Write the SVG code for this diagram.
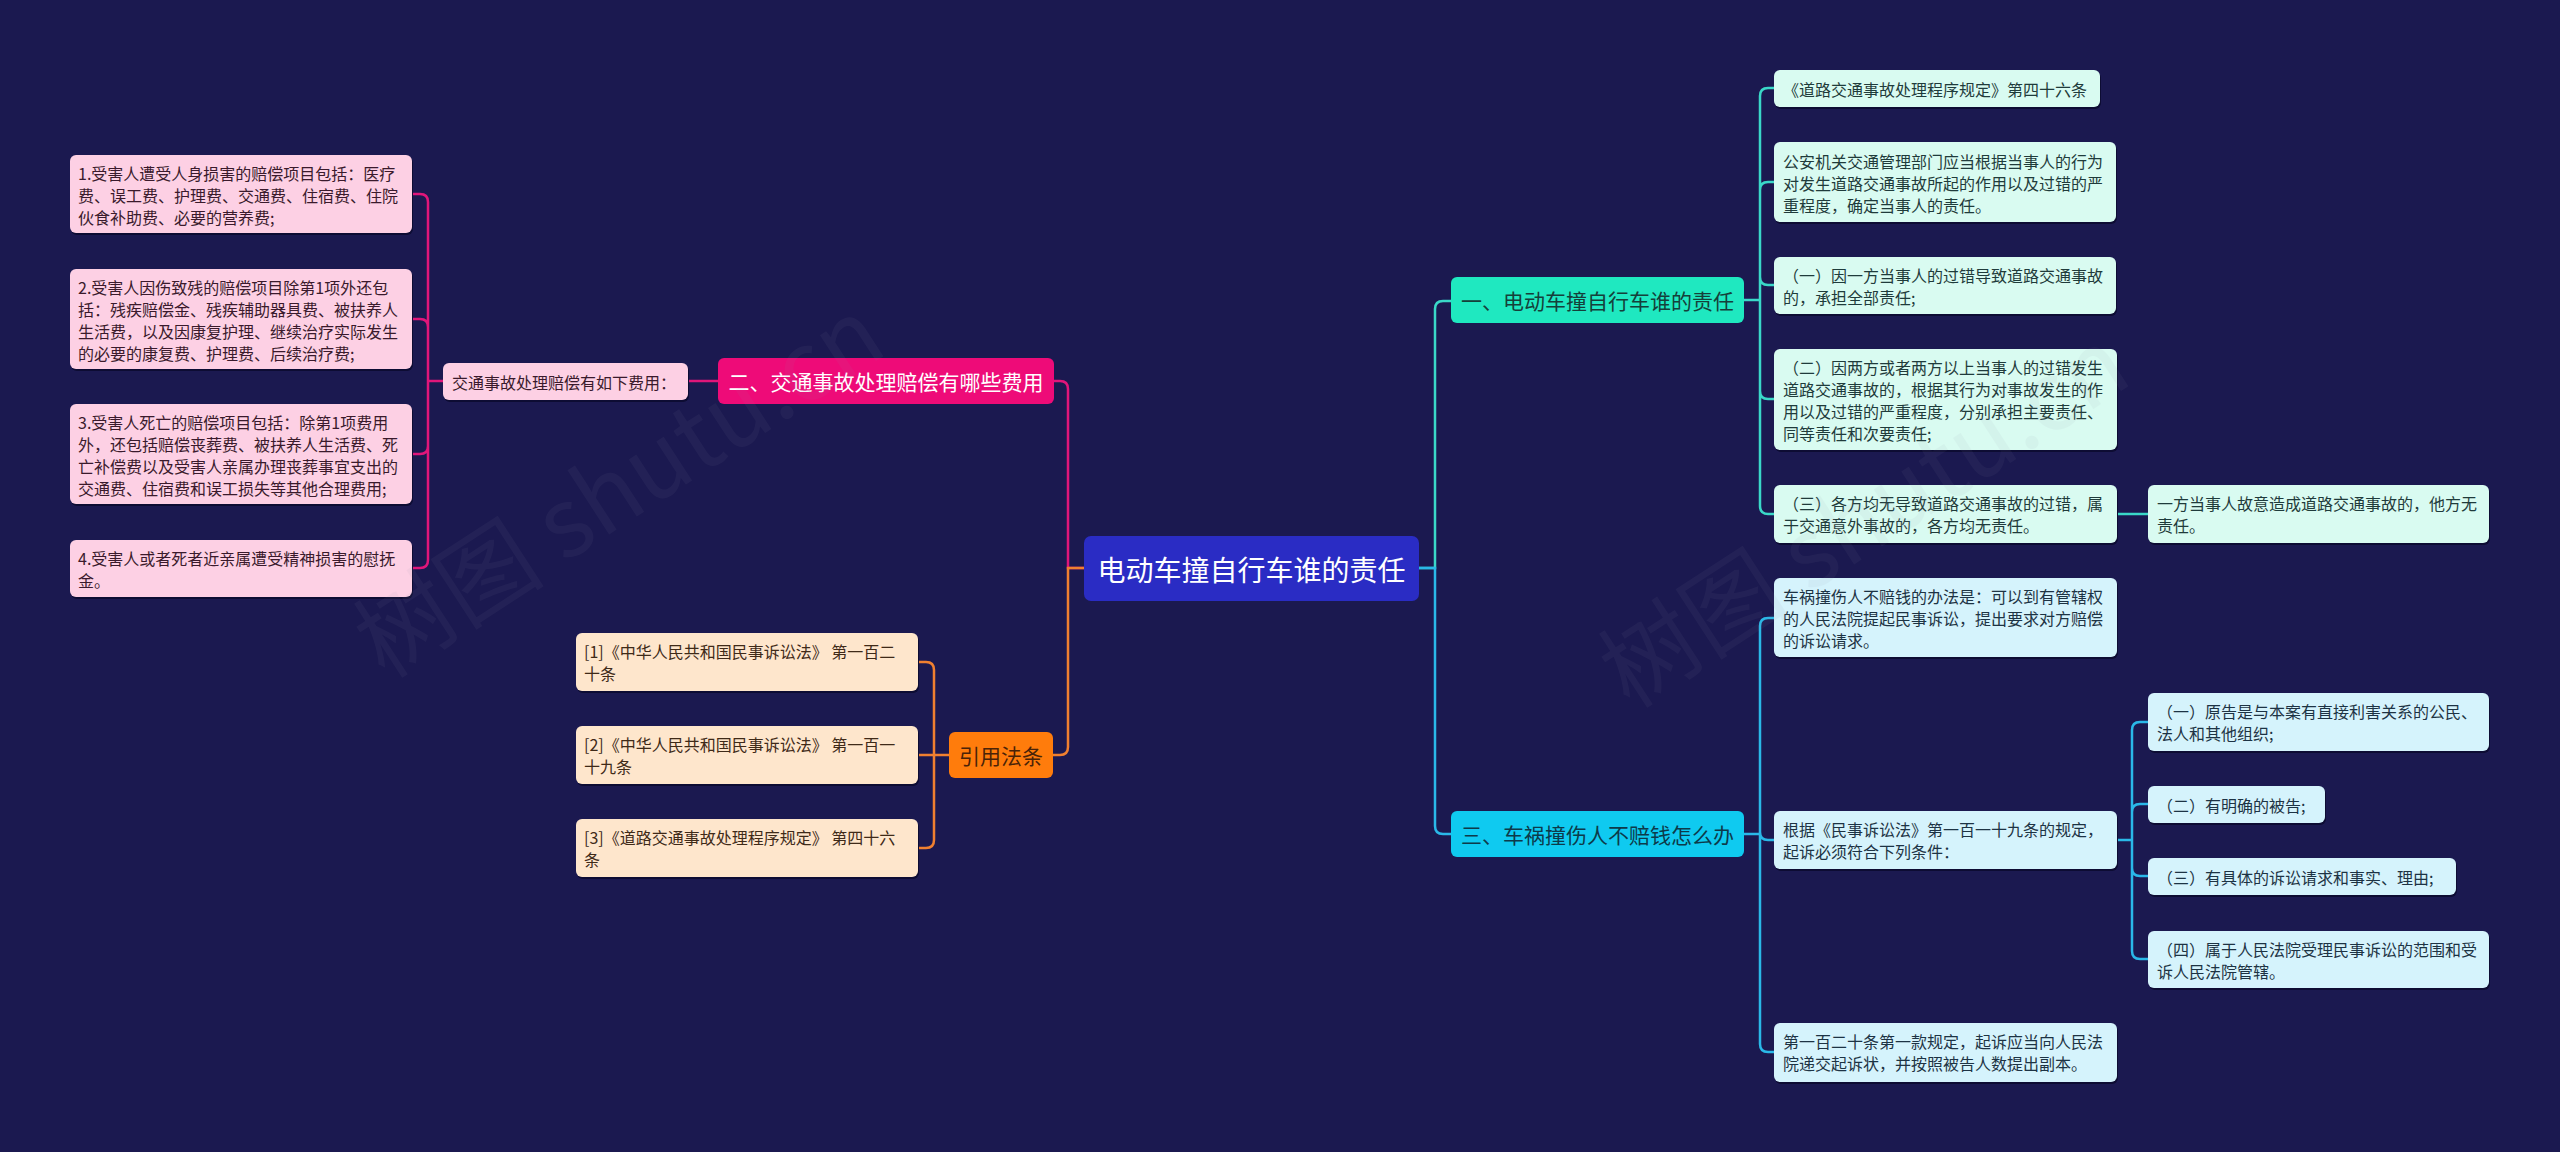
<svg xmlns="http://www.w3.org/2000/svg" width="2560" height="1152" viewBox="0 0 2560 1152">
<style>
text{font-family:"Noto Sans CJK SC","Noto Sans",sans-serif;dominant-baseline:central}
.lf{font-size:16px}
.br{font-size:21px}
.ln{fill:none;stroke-width:2.5;stroke-linecap:round}
.sh{fill:#0d0c33}
.pk{fill:#fdd0e4}.pkt{fill:#3a1a2c}
.gr{fill:#d9fbf1}.grt{fill:#1f3b3b}
.cy{fill:#d5f3fc}.cyt{fill:#1d3344}
.pe{fill:#fee6cc}.pet{fill:#3f2a18}
.wm{font-size:96px;fill:#9090a8;opacity:0.07;dominant-baseline:auto}
</style>
<rect width="2560" height="1152" fill="#1b1950"/>

<g id="connectors">
<path class="ln" stroke="#e0167a" d="M1084 568 H1068 V389 Q1068 381 1060 381 H1054"/>
<path class="ln" stroke="#f08030" d="M1084 568 H1068 V747 Q1068 755 1060 755 H1053"/>
<path class="ln" stroke="#3ad8c8" d="M1419 568 H1435 V309 Q1435 301 1443 301 H1451"/>
<path class="ln" stroke="#2ab8e8" d="M1419 568 H1435 V826 Q1435 834 1443 834 H1451"/>
<path class="ln" stroke="#e0167a" d="M718 381 H688"/>
<path class="ln" stroke="#e0167a" d="M443 381 H428 V202 Q428 194 420 194 H412 M428 381 V327 Q428 319 420 319 H412 M428 381 V446 Q428 454 420 454 H412 M428 381 V560 Q428 568 420 568 H412"/>
<path class="ln" stroke="#f08030" d="M949 755 H934 V670 Q934 662 926 662 H918 M934 755 H918 M934 755 V840 Q934 848 926 848 H918"/>
<path class="ln" stroke="#3ad8c8" d="M1744 300 H1760 V96 Q1760 88 1768 88 H1774 M1760 300 V190 Q1760 182 1768 182 H1774 M1760 300 V277 Q1760 285 1768 285 H1774 M1760 300 V391 Q1760 399 1768 399 H1774 M1760 300 V506 Q1760 514 1768 514 H1774"/>
<path class="ln" stroke="#3ad8c8" d="M2117 514 H2148"/>
<path class="ln" stroke="#2ab8e8" d="M1744 834 H1760 V626 Q1760 618 1768 618 H1774 M1760 834 V832 Q1760 840 1768 840 H1774 M1760 834 V1044 Q1760 1052 1768 1052 H1774"/>
<path class="ln" stroke="#2ab8e8" d="M2117 840 H2132 V730 Q2132 722 2140 722 H2148 M2132 840 V812 Q2132 804 2140 804 H2148 M2132 840 V868 Q2132 876 2140 876 H2148 M2132 840 V951 Q2132 959 2140 959 H2148"/>
</g>

<g id="root">
<rect x="1084" y="536" width="335" height="65" rx="7" fill="#2a2cc4"/>
<text x="1251.5" y="568.5" font-size="28" fill="#ffffff" text-anchor="middle">电动车撞自行车谁的责任</text>
</g>

<g id="b1">
<rect x="1451" y="277" width="293" height="46" rx="6" fill="#1fe8c0"/>
<text class="br" x="1597.5" y="300" fill="#15403a" text-anchor="middle">一、电动车撞自行车谁的责任</text>
</g>
<g id="b3">
<rect x="1451" y="811" width="293" height="46" rx="6" fill="#0fcaf0"/>
<text class="br" x="1597.5" y="834" fill="#0d3a4a" text-anchor="middle">三、车祸撞伤人不赔钱怎么办</text>
</g>
<g id="b2">
<rect x="718" y="358" width="336" height="46" rx="6" fill="#ee0b78"/>
<text class="br" x="886" y="381" fill="#ffffff" text-anchor="middle">二、交通事故处理赔偿有哪些费用</text>
</g>
<g id="b4">
<rect x="949" y="732" width="104" height="46" rx="6" fill="#ff7c0c"/>
<text class="br" x="1001" y="755" fill="#4a2308" text-anchor="middle">引用法条</text>
</g>

<g id="p0">
<rect class="sh" x="444" y="365" width="245" height="37" rx="6"/>
<rect class="pk" x="443" y="363" width="245" height="37" rx="6"/>
<text class="lf pkt" x="452" y="381.5">交通事故处理赔偿有如下费用：</text>
</g>
<g id="p1">
<rect class="sh" x="71" y="157" width="342" height="78" rx="6"/>
<rect class="pk" x="70" y="155" width="342" height="78" rx="6"/>
<text class="lf pkt" x="78" y="173">1.受害人遭受人身损害的赔偿项目包括：医疗</text>
<text class="lf pkt" x="78" y="195">费、误工费、护理费、交通费、住宿费、住院</text>
<text class="lf pkt" x="78" y="217">伙食补助费、必要的营养费;</text>
</g>
<g id="p2">
<rect class="sh" x="71" y="271" width="342" height="100" rx="6"/>
<rect class="pk" x="70" y="269" width="342" height="100" rx="6"/>
<text class="lf pkt" x="78" y="287">2.受害人因伤致残的赔偿项目除第1项外还包</text>
<text class="lf pkt" x="78" y="309">括：残疾赔偿金、残疾辅助器具费、被扶养人</text>
<text class="lf pkt" x="78" y="331">生活费，以及因康复护理、继续治疗实际发生</text>
<text class="lf pkt" x="78" y="353">的必要的康复费、护理费、后续治疗费;</text>
</g>
<g id="p3">
<rect class="sh" x="71" y="406" width="342" height="100" rx="6"/>
<rect class="pk" x="70" y="404" width="342" height="100" rx="6"/>
<text class="lf pkt" x="78" y="422">3.受害人死亡的赔偿项目包括：除第1项费用</text>
<text class="lf pkt" x="78" y="444">外，还包括赔偿丧葬费、被扶养人生活费、死</text>
<text class="lf pkt" x="78" y="466">亡补偿费以及受害人亲属办理丧葬事宜支出的</text>
<text class="lf pkt" x="78" y="488">交通费、住宿费和误工损失等其他合理费用;</text>
</g>
<g id="p4">
<rect class="sh" x="71" y="542" width="342" height="57" rx="6"/>
<rect class="pk" x="70" y="540" width="342" height="57" rx="6"/>
<text class="lf pkt" x="78" y="558">4.受害人或者死者近亲属遭受精神损害的慰抚</text>
<text class="lf pkt" x="78" y="580">金。</text>
</g>

<g id="r1">
<rect class="sh" x="577" y="635" width="342" height="58" rx="6"/>
<rect class="pe" x="576" y="633" width="342" height="58" rx="6"/>
<text class="lf pet" x="584" y="651">[1]《中华人民共和国民事诉讼法》 第一百二</text>
<text class="lf pet" x="584" y="673">十条</text>
</g>
<g id="r2">
<rect class="sh" x="577" y="728" width="342" height="58" rx="6"/>
<rect class="pe" x="576" y="726" width="342" height="58" rx="6"/>
<text class="lf pet" x="584" y="744">[2]《中华人民共和国民事诉讼法》 第一百一</text>
<text class="lf pet" x="584" y="766">十九条</text>
</g>
<g id="r3">
<rect class="sh" x="577" y="821" width="342" height="58" rx="6"/>
<rect class="pe" x="576" y="819" width="342" height="58" rx="6"/>
<text class="lf pet" x="584" y="837">[3]《道路交通事故处理程序规定》 第四十六</text>
<text class="lf pet" x="584" y="859">条</text>
</g>

<g id="g1">
<rect class="sh" x="1775" y="72" width="326" height="37" rx="6"/>
<rect class="gr" x="1774" y="70" width="326" height="37" rx="6"/>
<text class="lf grt" x="1783" y="88.5">《道路交通事故处理程序规定》第四十六条</text>
</g>
<g id="g2">
<rect class="sh" x="1775" y="144" width="342" height="80" rx="6"/>
<rect class="gr" x="1774" y="142" width="342" height="80" rx="6"/>
<text class="lf grt" x="1783" y="161">公安机关交通管理部门应当根据当事人的行为</text>
<text class="lf grt" x="1783" y="183">对发生道路交通事故所起的作用以及过错的严</text>
<text class="lf grt" x="1783" y="205">重程度，确定当事人的责任。</text>
</g>
<g id="g3">
<rect class="sh" x="1775" y="259" width="342" height="57" rx="6"/>
<rect class="gr" x="1774" y="257" width="342" height="57" rx="6"/>
<text class="lf grt" x="1783" y="275">（一）因一方当事人的过错导致道路交通事故</text>
<text class="lf grt" x="1783" y="297">的，承担全部责任;</text>
</g>
<g id="g4">
<rect class="sh" x="1775" y="351" width="343" height="101" rx="6"/>
<rect class="gr" x="1774" y="349" width="343" height="101" rx="6"/>
<text class="lf grt" x="1783" y="367">（二）因两方或者两方以上当事人的过错发生</text>
<text class="lf grt" x="1783" y="389">道路交通事故的，根据其行为对事故发生的作</text>
<text class="lf grt" x="1783" y="411">用以及过错的严重程度，分别承担主要责任、</text>
<text class="lf grt" x="1783" y="433">同等责任和次要责任;</text>
</g>
<g id="g5">
<rect class="sh" x="1775" y="487" width="343" height="58" rx="6"/>
<rect class="gr" x="1774" y="485" width="343" height="58" rx="6"/>
<text class="lf grt" x="1783" y="503">（三）各方均无导致道路交通事故的过错，属</text>
<text class="lf grt" x="1783" y="525">于交通意外事故的，各方均无责任。</text>
</g>
<g id="g6">
<rect class="sh" x="2149" y="487" width="341" height="58" rx="6"/>
<rect class="gr" x="2148" y="485" width="341" height="58" rx="6"/>
<text class="lf grt" x="2157" y="503">一方当事人故意造成道路交通事故的，他方无</text>
<text class="lf grt" x="2157" y="525">责任。</text>
</g>

<g id="c1">
<rect class="sh" x="1775" y="580" width="343" height="79" rx="6"/>
<rect class="cy" x="1774" y="578" width="343" height="79" rx="6"/>
<text class="lf cyt" x="1783" y="596">车祸撞伤人不赔钱的办法是：可以到有管辖权</text>
<text class="lf cyt" x="1783" y="618">的人民法院提起民事诉讼，提出要求对方赔偿</text>
<text class="lf cyt" x="1783" y="640">的诉讼请求。</text>
</g>
<g id="c2">
<rect class="sh" x="1775" y="813" width="343" height="58" rx="6"/>
<rect class="cy" x="1774" y="811" width="343" height="58" rx="6"/>
<text class="lf cyt" x="1783" y="829">根据《民事诉讼法》第一百一十九条的规定，</text>
<text class="lf cyt" x="1783" y="851">起诉必须符合下列条件：</text>
</g>
<g id="c3">
<rect class="sh" x="1775" y="1025" width="343" height="59" rx="6"/>
<rect class="cy" x="1774" y="1023" width="343" height="59" rx="6"/>
<text class="lf cyt" x="1783" y="1041">第一百二十条第一款规定，起诉应当向人民法</text>
<text class="lf cyt" x="1783" y="1063">院递交起诉状，并按照被告人数提出副本。</text>
</g>
<g id="c4">
<rect class="sh" x="2149" y="695" width="341" height="58" rx="6"/>
<rect class="cy" x="2148" y="693" width="341" height="58" rx="6"/>
<text class="lf cyt" x="2157" y="711">（一）原告是与本案有直接利害关系的公民、</text>
<text class="lf cyt" x="2157" y="733">法人和其他组织;</text>
</g>
<g id="c5">
<rect class="sh" x="2149" y="788" width="177" height="37" rx="6"/>
<rect class="cy" x="2148" y="786" width="177" height="37" rx="6"/>
<text class="lf cyt" x="2157" y="804.5">（二）有明确的被告;</text>
</g>
<g id="c6">
<rect class="sh" x="2149" y="860" width="308" height="37" rx="6"/>
<rect class="cy" x="2148" y="858" width="308" height="37" rx="6"/>
<text class="lf cyt" x="2157" y="876.5">（三）有具体的诉讼请求和事实、理由;</text>
</g>
<g id="c7">
<rect class="sh" x="2149" y="933" width="341" height="57" rx="6"/>
<rect class="cy" x="2148" y="931" width="341" height="57" rx="6"/>
<text class="lf cyt" x="2157" y="949">（四）属于人民法院受理民事诉讼的范围和受</text>
<text class="lf cyt" x="2157" y="971">诉人民法院管辖。</text>
</g>

<g id="watermarks">
<text class="wm" transform="translate(385,680) rotate(-33)">树图 shutu.cn</text>
<text class="wm" transform="translate(1630,710) rotate(-33)">树图 shutu.cn</text>
</g>
</svg>
